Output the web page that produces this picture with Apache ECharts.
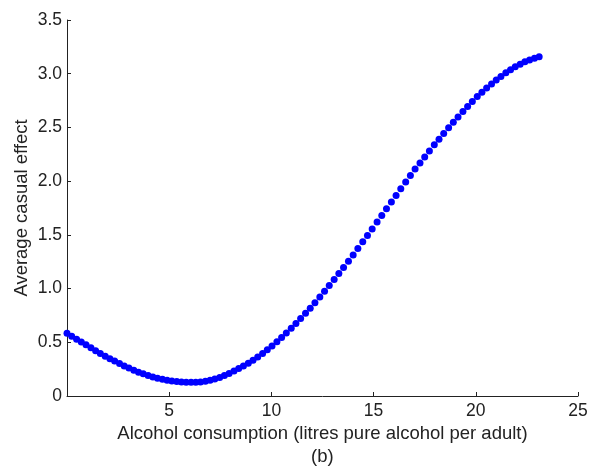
<!DOCTYPE html>
<html>
<head>
<meta charset="utf-8">
<script src="https://cdn.jsdelivr.net/npm/echarts@6/dist/echarts.min.js"></script>
<style>
html,body{margin:0;padding:0;background:#fff;}
#chart{width:593px;height:469px;}
</style>
</head>
<body>
<div id="chart"></div>
<script>
// Alcohol consumption (x) values of the plotted points
var consumption = [
  0.00, 0.23, 0.47, 0.70, 0.93, 1.17, 1.40, 1.63, 1.87, 2.10,
  2.33, 2.57, 2.80, 3.03, 3.27, 3.50, 3.73, 3.97, 4.20, 4.43,
  4.67, 4.90, 5.13, 5.37, 5.60, 5.83, 6.07, 6.30, 6.53, 6.77,
  7.00, 7.23, 7.47, 7.70, 7.93, 8.17, 8.40, 8.63, 8.87, 9.10,
  9.33, 9.57, 9.80, 10.03, 10.27, 10.50, 10.73, 10.97, 11.20, 11.43,
  11.67, 11.90, 12.13, 12.37, 12.60, 12.83, 13.07, 13.30, 13.53, 13.77,
  14.00, 14.23, 14.47, 14.70, 14.93, 15.17, 15.40, 15.63, 15.87, 16.10,
  16.33, 16.57, 16.80, 17.03, 17.27, 17.50, 17.73, 17.97, 18.20, 18.43,
  18.67, 18.90, 19.13, 19.37, 19.60, 19.83, 20.07, 20.30, 20.53, 20.77,
  21.00, 21.23, 21.47, 21.70, 21.93, 22.17, 22.40, 22.63, 22.87, 23.10
];
// Average causal effect (y) values
var effect = [
  0.583, 0.556, 0.528, 0.502, 0.476, 0.448, 0.422, 0.396, 0.371, 0.347,
  0.325, 0.302, 0.280, 0.260, 0.240, 0.222, 0.206, 0.190, 0.177, 0.165,
  0.155, 0.146, 0.139, 0.134, 0.130, 0.128, 0.127, 0.128, 0.131, 0.138,
  0.146, 0.159, 0.173, 0.191, 0.210, 0.232, 0.255, 0.279, 0.306, 0.333,
  0.363, 0.396, 0.430, 0.465, 0.506, 0.545, 0.586, 0.630, 0.675, 0.721,
  0.770, 0.817, 0.868, 0.922, 0.975, 1.029, 1.085, 1.140, 1.196, 1.255,
  1.313, 1.373, 1.435, 1.495, 1.555, 1.619, 1.680, 1.742, 1.805, 1.867,
  1.929, 1.993, 2.053, 2.112, 2.170, 2.225, 2.280, 2.338, 2.391, 2.444,
  2.497, 2.548, 2.597, 2.648, 2.695, 2.741, 2.787, 2.827, 2.867, 2.905,
  2.942, 2.975, 3.009, 3.037, 3.065, 3.089, 3.111, 3.128, 3.143, 3.157
];
var xTitle = 'Alcohol consumption (litres pure alcohol per adult)';
var yTitle = 'Average casual effect';
var panelLabel = '(b)';

var points = consumption.map(function (x, i) { return [x, effect[i]]; });

var font = 'Liberation Sans, Arial, sans-serif';
var axisColor = '#222';
var chart = echarts.init(document.getElementById('chart'), null, {renderer: 'canvas'});
chart.setOption({
  animation: false,
  backgroundColor: '#fff',
  grid: {left: 67, right: 15, top: 20, bottom: 73, containLabel: false, outerBoundsMode: 'none'},
  xAxis: {
    type: 'value', min: 0, max: 25, interval: 5,
    name: xTitle, nameLocation: 'middle', nameGap: 28, nameMoveOverlap: false,
    nameTextStyle: {fontFamily: font, fontSize: 18.5, color: axisColor},
    axisLine: {show: true, onZero: false, lineStyle: {color: axisColor, width: 1}},
    axisTick: {show: true, inside: true, length: 4, lineStyle: {color: axisColor}},
    axisLabel: {fontFamily: font, fontSize: 17.5, color: axisColor, margin: 6, showMinLabel: false},
    splitLine: {show: false}
  },
  yAxis: {
    type: 'value', min: 0, max: 3.5, interval: 0.5,
    name: yTitle, nameLocation: 'middle', nameGap: 36, nameRotate: 90, nameMoveOverlap: false,
    nameTextStyle: {fontFamily: font, fontSize: 18.5, color: axisColor},
    axisLine: {show: true, onZero: false, lineStyle: {color: axisColor, width: 1}},
    axisTick: {show: true, inside: true, length: 4, lineStyle: {color: axisColor}},
    axisLabel: {fontFamily: font, fontSize: 17.5, color: axisColor, margin: 5,
      formatter: function (v) { return v === 0 ? '0' : v.toFixed(1); }},
    splitLine: {show: false}
  },
  graphic: [{
    type: 'text', left: 311, top: 447,
    style: {text: panelLabel, font: '18.5px ' + font, fill: axisColor}
  }],
  series: [{
    type: 'scatter',
    data: points,
    symbol: 'circle',
    symbolSize: 7,
    itemStyle: {color: '#0000ff', opacity: 1}
  }]
});
</script>
</body>
</html>
